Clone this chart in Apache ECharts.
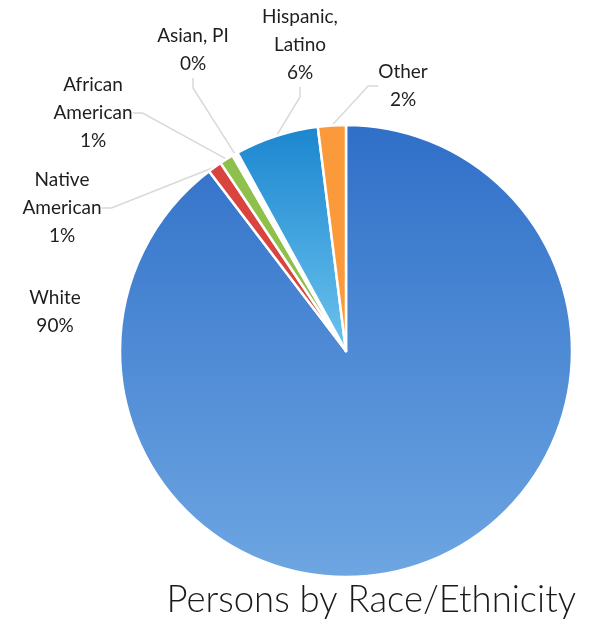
<!DOCTYPE html>
<html>
<head>
<meta charset="utf-8">
<script src="https://cdn.jsdelivr.net/npm/echarts@6/dist/echarts.min.js"></script>
<style>
  html, body { margin: 0; padding: 0; background: #fff; }
  #chart { width: 594px; height: 630px; }
</style>
</head>
<body>
<div id="chart"></div>
<script>
// data
var categories = ['White', 'Native\nAmerican', 'African\nAmerican', 'Asian, PI', 'Hispanic,\nLatino', 'Other']
var values = [90, 1, 1, 0.4, 6, 2]
// where each label sits (Excel put them by hand)
var labelPos = [[55, 312], [62, 208], [93, 113], [193, 50], [300, 45], [403, 86]]

var grad = function (top, bottom) {
  return new echarts.graphic.LinearGradient(0, 0, 0, 1, [
    { offset: 0, color: top },
    { offset: 1, color: bottom }
  ])
}
var colors = [
  grad('#2f6fc8', '#6ea6e2'),
  '#d9443f',
  '#8fc04c',
  '#ffffff', // the 0% sliver just reads as a wider gap
  grad('#1b86cf', '#6cc3ee'),
  '#fb9a3a'
]

var chart = echarts.init(document.getElementById('chart'))
chart.setOption({
  animation: false,
  title: {
    text: 'Persons by Race/Ethnicity',
    right: 13,
    bottom: 6,
    textStyle: {
      fontFamily: 'Lato',
      fontWeight: 300,
      fontSize: 36.5,
      color: '#1a1a1a'
    }
  },
  series: [{
    type: 'pie',
    center: [346, 351],
    radius: 226,
    startAngle: 90,
    clockwise: true,
    percentPrecision: 0,
    avoidLabelOverlap: false,
    itemStyle: {
      borderColor: '#fff',
      borderWidth: 2.5
    },
    label: {
      formatter: '{b}\n{d}%',
      fontFamily: 'Lato',
      fontSize: 19,
      lineHeight: 28,
      color: '#1e1e1e',
      align: 'center'
    },
    labelLine: {
      show: true,
      length: 10,
      length2: 10,
      lineStyle: { color: '#d9d9d9', width: 1.5 }
    },
    labelLayout: function (p) {
      var pos = labelPos[p.dataIndex]
      return { x: pos[0], y: pos[1], align: 'center', verticalAlign: 'middle' }
    },
    data: categories.map(function (c, i) {
      var item = { name: c, value: values[i], itemStyle: { color: colors[i] } }
      if (i === 0) item.labelLine = { show: false }
      return item
    })
  }]
})
</script>
</body>
</html>
